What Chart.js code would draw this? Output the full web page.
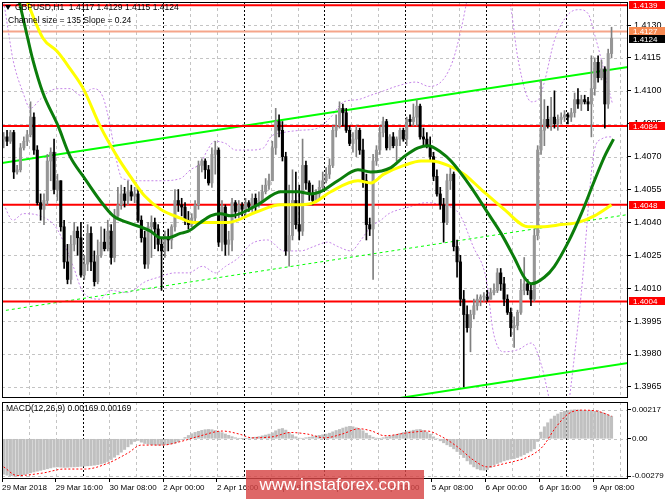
<!DOCTYPE html>
<html>
<head>
<meta charset="utf-8">
<title>GBPUSD H1</title>
<script src="https://cdn.jsdelivr.net/npm/chart.js@4.4.1/dist/chart.umd.min.js"></script>
<style>
  html, body { margin: 0; padding: 0; background: #fff; }
  #box { position: relative; width: 665px; height: 499px; overflow: hidden; }
  #main { position: absolute; left: 0; top: 0; }
  #macd { position: absolute; left: 0; top: 399px; }
  #mark { position: absolute; left: 246px; top: 470px; width: 178px; height: 29px;
          background: rgba(215, 70, 70, 0.82); color: #fff;
          font: 17px "Liberation Sans", Arial, sans-serif; line-height: 29px; text-align: center; }
</style>
</head>
<body>
<div id="box">
  <canvas id="main" width="665" height="400"></canvas>
  <canvas id="macd" width="665" height="100"></canvas>
  <div id="mark">www.instaforex.com</div>
</div>
<script>
// ---- data ----
var symbolTitle = 'GBPUSD,H1';
var channelInfo = 'Channel size = 135 Slope = 0.24';
var macdTitle = 'MACD(12,26,9)';

var xLabels = ['29 Mar 2018', '29 Mar 16:00', '30 Mar 08:00', '2 Apr 00:00', '2 Apr 16:00', '3 Apr 08:00',
               '4 Apr 00:00', '4 Apr 16:00', '5 Apr 08:00', '6 Apr 00:00', '6 Apr 16:00', '9 Apr 08:00'];
var priceTicks = [1.3965, 1.3980, 1.3995, 1.4010, 1.4025, 1.4040, 1.4055, 1.4070, 1.4085, 1.4100, 1.4115, 1.4130];
var macdTicks = [0.00217, 0, -0.00279];

var opens = [
  1.4078,1.4079,1.4077,1.4081,1.4063,1.4064,1.4074,1.4077,1.4080,1.4088,1.4073,1.4049,1.4046,1.4050,1.4068,1.4072,1.4055,1.4059,1.4038,1.4022,
  1.4014,1.4030,1.4036,1.4033,1.4016,1.4021,1.4035,1.4022,1.4013,1.4025,1.4031,1.4028,1.4036,1.4024,1.4043,1.4048,1.4053,1.4050,1.4054,1.4052,
  1.4053,1.4041,1.4033,1.4021,1.4038,1.4040,1.4037,1.4030,1.4027,1.4033,1.4032,1.4038,1.4050,1.4048,1.4047,1.4041,1.4039,1.4042,1.4048,1.4066,
  1.4068,1.4064,1.4058,1.4071,1.4073,1.4031,1.4047,1.4030,1.4032,1.4049,1.4045,1.4048,1.4046,1.4049,1.4047,1.4051,1.4048,1.4050,1.4054,1.4057,
  1.4059,1.4074,1.4086,1.4082,1.4070,1.4027,1.4034,1.4050,1.4039,1.4036,1.4066,1.4058,1.4053,1.4050,1.4053,1.4056,1.4059,1.4062,1.4066,1.4082,
  1.4084,1.4092,1.4090,1.4082,1.4076,1.4078,1.4082,1.4073,1.4059,1.4039,1.4037,1.4068,1.4073,1.4081,1.4086,1.4074,1.4079,1.4075,1.4078,1.4082,
  1.4078,1.4087,1.4086,1.4088,1.4093,1.4079,1.4078,1.4075,1.4070,1.4061,1.4053,1.4048,1.4040,1.4059,1.4062,1.4029,1.4022,1.4005,1.3998,1.3992,
  1.3998,1.4002,1.4005,1.4006,1.4006,1.4005,1.4008,1.4009,1.4017,1.4012,1.4005,1.3999,1.3992,1.3993,1.3999,1.4009,1.4012,1.4009,1.4005,1.4034,
  1.4073,1.4082,1.4087,1.4084,1.4088,1.4085,1.4087,1.4088,1.4089,1.4088,1.4090,1.4096,1.4094,1.4096,1.4095,1.4094,1.4101,1.4113,1.4106,1.4110,
  1.4094,1.4117];
var highs = [
  1.4081,1.4082,1.4082,1.4082,1.4066,1.4076,1.4079,1.4082,1.4095,1.4090,1.4075,1.4053,1.4053,1.4071,1.4074,1.4078,1.4062,1.4059,1.4041,1.4030,
  1.4034,1.4040,1.4038,1.4040,1.4025,1.4039,1.4038,1.4027,1.4032,1.4038,1.4037,1.4041,1.4039,1.4046,1.4056,1.4057,1.4056,1.4059,1.4057,1.4056,
  1.4055,1.4043,1.4036,1.4040,1.4043,1.4042,1.4039,1.4033,1.4036,1.4037,1.4039,1.4055,1.4055,1.4051,1.4049,1.4045,1.4044,1.4050,1.4068,1.4069,
  1.4069,1.4066,1.4074,1.4077,1.4074,1.4050,1.4048,1.4036,1.4051,1.4050,1.4050,1.4049,1.4051,1.4050,1.4053,1.4053,1.4054,1.4057,1.4060,1.4062,
  1.4077,1.4092,1.4089,1.4086,1.4072,1.4057,1.4064,1.4063,1.4057,1.4078,1.4068,1.4059,1.4057,1.4055,1.4059,1.4063,1.4065,1.4069,1.4084,1.4089,
  1.4095,1.4094,1.4092,1.4084,1.4081,1.4084,1.4083,1.4078,1.4062,1.4042,1.4071,1.4075,1.4084,1.4088,1.4087,1.4080,1.4081,1.4079,1.4083,1.4083,
  1.4088,1.4089,1.4094,1.4096,1.4094,1.4083,1.4081,1.4079,1.4072,1.4064,1.4056,1.4051,1.4062,1.4065,1.4063,1.4032,1.4025,1.4009,1.4002,1.4000,
  1.4005,1.4007,1.4007,1.4008,1.4009,1.4010,1.4012,1.4019,1.4019,1.4015,1.4007,1.4001,1.3997,1.4000,1.4014,1.4024,1.4014,1.4012,1.4037,1.4075,
  1.4105,1.4096,1.4093,1.4097,1.4100,1.4089,1.4090,1.4091,1.4090,1.4092,1.4099,1.4101,1.4098,1.4098,1.4097,1.4116,1.4115,1.4116,1.4114,1.4111,
  1.4119,1.4129];
var lows = [
  1.4074,1.4075,1.4076,1.4060,1.4062,1.4063,1.4073,1.4075,1.4079,1.4071,1.4048,1.4041,1.4039,1.4048,1.4059,1.4053,1.4050,1.4036,1.4019,1.4012,
  1.4012,1.4027,1.4025,1.4015,1.4014,1.4018,1.4018,1.4011,1.4012,1.4024,1.4027,1.4027,1.4021,1.4022,1.4042,1.4046,1.4047,1.4048,1.4050,1.4049,
  1.4040,1.4031,1.4019,1.4019,1.4024,1.4028,1.4027,1.4009,1.4024,1.4027,1.4028,1.4036,1.4045,1.4043,1.4039,1.4037,1.4038,1.4040,1.4046,1.4063,
  1.4060,1.4057,1.4056,1.4062,1.4029,1.4027,1.4025,1.4025,1.4027,1.4042,1.4042,1.4043,1.4043,1.4045,1.4045,1.4045,1.4047,1.4050,1.4053,1.4055,
  1.4059,1.4071,1.4079,1.4068,1.4025,1.4020,1.4032,1.4037,1.4032,1.4034,1.4055,1.4050,1.4048,1.4049,1.4050,1.4054,1.4058,1.4060,1.4065,1.4079,
  1.4083,1.4084,1.4081,1.4075,1.4072,1.4070,1.4071,1.4056,1.4032,1.4034,1.4014,1.4066,1.4071,1.4079,1.4073,1.4073,1.4074,1.4068,1.4075,1.4077,
  1.4075,1.4084,1.4084,1.4084,1.4078,1.4075,1.4074,1.4068,1.4059,1.4052,1.4046,1.4031,1.4039,1.4055,1.4027,1.4015,1.4002,1.3965,1.3990,1.3981,
  1.3996,1.4000,1.4002,1.4004,1.4004,1.4005,1.4007,1.4008,1.4009,1.4002,1.3998,1.3988,1.3983,1.3991,1.3998,1.4007,1.4007,1.4002,1.4004,1.4032,
  1.4071,1.4075,1.4083,1.4082,1.4083,1.4082,1.4085,1.4086,1.4085,1.4086,1.4088,1.4092,1.4091,1.4094,1.4091,1.4079,1.4098,1.4104,1.4105,1.4083,
  1.4092,1.4115];
var closes = [
  1.4079,1.4077,1.4081,1.4063,1.4064,1.4074,1.4077,1.4080,1.4088,1.4073,1.4049,1.4046,1.4050,1.4068,1.4072,1.4055,1.4059,1.4038,1.4022,1.4014,
  1.4030,1.4036,1.4033,1.4016,1.4021,1.4035,1.4022,1.4013,1.4025,1.4031,1.4028,1.4036,1.4024,1.4043,1.4048,1.4053,1.4050,1.4054,1.4052,1.4053,
  1.4041,1.4033,1.4021,1.4038,1.4040,1.4037,1.4030,1.4027,1.4033,1.4032,1.4038,1.4050,1.4048,1.4047,1.4041,1.4039,1.4042,1.4048,1.4066,1.4068,
  1.4064,1.4058,1.4071,1.4073,1.4031,1.4047,1.4030,1.4032,1.4049,1.4045,1.4048,1.4046,1.4049,1.4047,1.4051,1.4048,1.4050,1.4054,1.4057,1.4059,
  1.4074,1.4086,1.4082,1.4070,1.4027,1.4034,1.4050,1.4039,1.4036,1.4066,1.4058,1.4053,1.4050,1.4053,1.4056,1.4059,1.4062,1.4066,1.4082,1.4084,
  1.4092,1.4090,1.4082,1.4076,1.4078,1.4082,1.4073,1.4059,1.4039,1.4037,1.4068,1.4073,1.4081,1.4086,1.4074,1.4079,1.4075,1.4078,1.4082,1.4078,
  1.4087,1.4086,1.4088,1.4093,1.4079,1.4078,1.4075,1.4070,1.4061,1.4053,1.4048,1.4040,1.4059,1.4062,1.4029,1.4022,1.4005,1.3998,1.3992,1.3998,
  1.4002,1.4005,1.4006,1.4006,1.4005,1.4008,1.4009,1.4017,1.4012,1.4005,1.3999,1.3992,1.3993,1.3999,1.4009,1.4012,1.4009,1.4005,1.4034,1.4073,
  1.4082,1.4087,1.4084,1.4088,1.4085,1.4087,1.4088,1.4089,1.4088,1.4090,1.4096,1.4094,1.4096,1.4095,1.4094,1.4101,1.4113,1.4106,1.4110,1.4094,
  1.4117,1.4124];

// moving averages, read as (bar, price) points
var maGreenX = [4.3, 7.0, 8.7, 11.7, 16.2, 19.8, 23.7, 28.7, 32.6, 36.8, 40.7, 43.7, 46.7, 48.7, 52.6, 55.0, 58.6, 61.6, 64.6, 67.6,
                75.6, 82.5, 87.6, 91.4, 94.4, 99.5, 105.5, 109.3, 115.3, 119.2, 123.4, 126.4, 130.2, 133.2, 139.2, 144.3, 148.1,
                152.0, 155.0, 157.1, 161.0, 164.0, 168.1, 172.0, 175.9, 178.9, 181.6];
var maGreenY = [1.4143, 1.4125, 1.4114, 1.4099, 1.4084, 1.4070, 1.4061, 1.4050, 1.4043, 1.4040, 1.4038, 1.4036, 1.4033, 1.4033, 1.4035,
                1.4036, 1.4040, 1.4043, 1.4044, 1.4043, 1.4048, 1.4054, 1.4054, 1.4053, 1.4054, 1.4059, 1.4064, 1.4063, 1.4065,
                1.4070, 1.4074, 1.4075, 1.4072, 1.4068, 1.4056, 1.4044, 1.4035, 1.4024, 1.4015, 1.4012, 1.4015, 1.4020, 1.4031,
                1.4044, 1.4059, 1.4070, 1.4078];
var maYellowX = [6.4, 11.7, 15.9, 19.8, 23.7, 28.7, 33.8, 37.7, 42.0, 46.7, 52.6, 56.5, 60.7, 66.7, 75.6, 82.5, 87.6, 92.3, 97.4,
                 105.5, 109.3, 113.2, 119.2, 124.3, 127.3, 132.3, 137.1, 142.2, 149.0, 156.2, 160.1, 166.1, 171.1, 175.9, 181.0];
var maYellowY = [1.4143, 1.4124, 1.4118, 1.4110, 1.4101, 1.4084, 1.4070, 1.4061, 1.4052, 1.4046, 1.4042, 1.4040, 1.4040, 1.4040,
                 1.4045, 1.4048, 1.4048, 1.4049, 1.4054, 1.4059, 1.4058, 1.4062, 1.4066, 1.4068, 1.4068, 1.4066, 1.4062, 1.4055,
                 1.4046, 1.4038, 1.4038, 1.4039, 1.4040, 1.4043, 1.4048];

// bands (violet dashed), read as (bar, price) points
var bandUpX = [-0.5, 1.3, 2.8, 5.8, 7.9, 10.8, 13.8, 16.8, 19.8, 22.8, 26.7, 29.6, 31.7, 33.5, 35.3, 40.7, 46.7, 52.6, 55.6, 58.6,
               60.7, 62.8, 66.1, 69.0, 73.5, 77.4, 79.5, 83.4, 88.4, 93.5, 97.4, 101.3, 105.5, 109.3, 113.2, 116.8, 122.8, 126.7,
               130.8, 133.8, 136.2, 138.6, 142.2, 148.2, 151.1, 153.2, 157.1, 159.2, 161.0, 164.0, 168.2, 171.4, 174.1, 175.9,
               178.0, 180.1, 181.3];
var bandUpY = [1.4146, 1.4128, 1.4114, 1.4099, 1.4092, 1.4096, 1.4100, 1.4101, 1.4101, 1.4098, 1.4101, 1.4097, 1.4084, 1.4069, 1.4060,
               1.4059, 1.4059, 1.4060, 1.4064, 1.4067, 1.4073, 1.4077, 1.4076, 1.4073, 1.4073, 1.4074, 1.4079, 1.4081, 1.4082,
               1.4083, 1.4088, 1.4095, 1.4096, 1.4098, 1.4100, 1.4102, 1.4104, 1.4102, 1.4105, 1.4114, 1.4128, 1.4146, 1.4168,
               1.4159, 1.4137, 1.4114, 1.4095, 1.4096, 1.4104, 1.4123, 1.4135, 1.4137, 1.4135, 1.4126, 1.4114, 1.4101, 1.4094];
var bandLowX = [-0.5, 2.8, 5.8, 10.8, 15.9, 20.7, 23.7, 28.7, 31.7, 36.8, 42.2, 46.1, 51.1, 55.0, 59.2, 63.1, 66.1, 70.0, 73.5, 78.6,
                83.4, 88.4, 92.3, 96.5, 99.5, 103.4, 106.4, 109.3, 112.3, 114.7, 120.7, 125.8, 130.2, 135.6, 139.8, 143.7, 145.8,
                148.8, 153.2, 157.1, 160.1, 162.5, 164.9, 167.3, 168.5, 172.0, 175.9, 178.0, 180.1, 181.3];
var bandLowY = [1.4050, 1.4041, 1.4044, 1.4043, 1.4037, 1.4020, 1.4008, 1.4005, 1.4009, 1.4008, 1.4013, 1.4015, 1.4017, 1.4017, 1.4020,
                1.4017, 1.4020, 1.4024, 1.4030, 1.4032, 1.4027, 1.4027, 1.4029, 1.4031, 1.4029, 1.4027, 1.4032, 1.4038, 1.4041,
                1.4044, 1.4047, 1.4049, 1.4048, 1.4044, 1.4029, 1.4014, 1.3990, 1.3981, 1.3982, 1.3985, 1.3975, 1.3959, 1.3941,
                1.3945, 1.3960, 1.4008, 1.4073, 1.4078, 1.4079, 1.4079];

// trend channel: [left, right] ends
var channelX = [-1.1, 186.4];
var channelUpper = [1.4067, 1.4111];
var channelMid = [1.39995, 1.40437];
var channelLower = [1.3932, 1.3976];

var levels = [1.4139, 1.4084, 1.4048, 1.4004];
var askPrice = 1.4127;
var bidPrice = 1.4124;

// MACD main (histogram, one per bar) and signal (points)
var macdMain = [
  -0.00265,-0.00272,-0.00276,-0.00279,-0.00278,-0.00274,-0.00268,-0.00262,-0.00255,-0.00248,-0.00242,
  -0.00236,-0.00230,-0.00224,-0.00218,-0.00212,-0.00210,-0.00212,-0.00214,-0.00213,-0.00211,
  -0.00210,-0.00208,-0.00206,-0.00204,-0.00202,-0.00200,-0.00197,-0.00193,-0.00188,-0.00181,
  -0.00170,-0.00155,-0.00138,-0.00120,-0.00100,-0.00080,-0.00060,-0.00040,-0.00020,-0.00012,
  -0.00025,-0.00035,-0.00040,-0.00044,-0.00046,-0.00047,-0.00047,-0.00045,-0.00042,-0.00038,
  -0.00033,-0.00022,-0.00005,0.00010,0.00025,0.00038,0.00048,0.00056,0.00063,0.00068,
  0.00070,0.00068,0.00062,0.00055,0.00046,0.00036,0.00026,0.00016,0.00008,0.00003,
  0.00001,0.00002,0.00005,0.00009,0.00012,0.00016,0.00022,0.00028,0.00035,0.00045,
  0.00060,0.00072,0.00077,0.00065,0.00045,0.00030,0.00015,0.00005,0.00004,0.00008,
  0.00012,0.00016,0.00022,0.00026,0.00030,0.00035,0.00042,0.00052,0.00062,0.00070,
  0.00080,0.00088,0.00093,0.00090,0.00082,0.00072,0.00060,0.00042,0.00025,0.00012,
  0.00005,0.00003,0.00008,0.00014,0.00020,0.00025,0.00032,0.00040,0.00047,0.00053,
  0.00058,0.00064,0.00068,0.00070,0.00062,0.00050,0.00035,0.00015,0.00000,-0.00015,
  -0.00030,-0.00045,-0.00058,-0.00075,-0.00095,-0.00118,-0.00140,-0.00165,-0.00190,-0.00210,
  -0.00225,-0.00233,-0.00235,-0.00230,-0.00215,-0.00195,-0.00185,-0.00175,-0.00165,-0.00158,
  -0.00152,-0.00148,-0.00140,-0.00130,-0.00118,-0.00105,-0.00092,-0.00075,-0.00020,0.00050,
  0.00090,0.00120,0.00148,0.00170,0.00185,0.00198,0.00207,0.00212,0.00215,0.00217,
  0.00216,0.00214,0.00211,0.00208,0.00206,0.00205,0.00203,0.00198,0.00190,0.00178,0.00169];
var signalX = [0, 4, 11.6, 18, 24.4, 30.7, 37.1, 40.9, 47.3, 52.3, 58.7, 65.1, 70.2, 74, 80.3, 85.4, 90.5, 95.6, 100.7,
               105.8, 109.6, 113.4, 121, 126.1, 129.9, 135, 140.1, 144, 149, 156.7, 160.5, 164.3, 168.1, 172, 177, 181];
var signalY = [-0.00210, -0.00275, -0.00256, -0.00226, -0.00226, -0.00186, -0.00105, -0.00047, -0.00047, -0.00023, 0.00023,
               0.00058, 0.00035, 0.00007, 0.00016, 0.00047, 0.00035, 0.00007, 0.00035, 0.00075, 0.00058, 0.00023, 0.00047,
               0.00058, 0.00023, -0.00058, -0.00163, -0.00210, -0.00186, -0.00128, -0.00058, 0.00082, 0.00186, 0.00214,
               0.00205, 0.00169];

// ---- axis ranges & styling ----
var X_MIN = -0.5, X_MAX = 185.9;
var PRICE_MIN = 1.39604, PRICE_MAX = 1.41405;
var MACD_MIN = -0.00293, MACD_MAX = 0.00275;
var labelStep = 16, gridStep = 8, dayStep = 24;
var FONT = '"Liberation Sans", Arial, sans-serif';

Chart.defaults.font.family = FONT;
Chart.defaults.font.size = 8;
Chart.defaults.color = '#000';

function pts(xs, ys) { return xs.map(function(x, i) { return {x: x, y: ys[i]}; }); }
function hline(v) { return [{x: X_MIN, y: v}, {x: X_MAX, y: v}]; }
function lineSet(data, color, width, order, dash) {
  return {type: 'line', data: data, borderColor: color, borderWidth: width, pointRadius: 0,
          fill: false, clip: 0, order: order, borderDash: dash || [], cubicInterpolationMode: 'monotone'};
}

// grid, separators and frame like the terminal draws them
function mtGrid(hTicks) {
  return {
    id: 'mtGrid',
    beforeDatasetsDraw: function(chart) {
      var ctx = chart.ctx, a = chart.chartArea, xs = chart.scales.x, ys = chart.scales.y;
      ctx.save();
      ctx.beginPath(); ctx.rect(a.left, a.top, a.right - a.left, a.bottom - a.top); ctx.clip();
      ctx.lineWidth = 1;
      ctx.strokeStyle = '#c4c4c4'; ctx.setLineDash([3, 3]);
      hTicks.forEach(function(v) {
        var y = Math.round(ys.getPixelForValue(v)) + 0.5;
        ctx.beginPath(); ctx.moveTo(a.left, y); ctx.lineTo(a.right, y); ctx.stroke();
      });
      for (var b = gridStep; b <= X_MAX; b += gridStep) {
        var x = Math.round(xs.getPixelForValue(b - 0.5)) + 0.5;
        if (b % dayStep === 0) { ctx.strokeStyle = '#000'; ctx.setLineDash([2, 2]); }
        else { ctx.strokeStyle = '#c4c4c4'; ctx.setLineDash([3, 3]); }
        ctx.beginPath(); ctx.moveTo(x, a.top); ctx.lineTo(x, a.bottom); ctx.stroke();
      }
      ctx.restore();
    },
    afterDatasetsDraw: function(chart) {
      var ctx = chart.ctx, a = chart.chartArea;
      ctx.save();
      ctx.strokeStyle = '#000'; ctx.lineWidth = 1;
      ctx.strokeRect(a.left + 0.5, a.top + 0.5, a.right - a.left - 1, a.bottom - a.top);
      ctx.restore();
    }
  };
}

var last = closes.length - 1;
var idx = closes.map(function(c, i) { return i; });
var isUp = idx.map(function(i) { return closes[i] >= opens[i]; });

// price tags on the right axis; ask tag nudged up, bid tag nudged down so both stay readable
var badgePlugin = {
  id: 'badges',
  afterDraw: function(chart) {
    var ctx = chart.ctx, ys = chart.scales.y;
    var items = levels.map(function(v) { return {v: v, bg: '#ff0000', shift: 0}; });
    items.push({v: askPrice, bg: '#f78a52', shift: -1});
    items.push({v: bidPrice, bg: '#000000', shift: 1});
    ctx.save();
    ctx.font = '8px ' + FONT; ctx.textBaseline = 'middle';
    items.forEach(function(it) {
      var y = Math.round(ys.getPixelForValue(it.v)) + it.shift;
      ctx.fillStyle = it.bg; ctx.fillRect(629, y - 4, 36, 8);
      ctx.fillStyle = '#fff'; ctx.fillText(it.v.toFixed(4), 633, y + 0.5);
    });
    ctx.restore();
  }
};

var headerPlugin = {
  id: 'header',
  afterDatasetsDraw: function(chart) {
    var ctx = chart.ctx;
    ctx.save();
    ctx.fillStyle = '#000';
    ctx.beginPath(); ctx.moveTo(5, 5); ctx.lineTo(11, 5); ctx.lineTo(8, 10); ctx.closePath(); ctx.fill();
    ctx.font = '8.5px ' + FONT; ctx.textBaseline = 'middle';
    ctx.fillText(symbolTitle + '  ' + opens[last].toFixed(4) + ' ' + highs[last].toFixed(4) + ' ' +
                 lows[last].toFixed(4) + ' ' + closes[last].toFixed(4), 15, 8);
    ctx.fillText(channelInfo, 8, 21);
    ctx.restore();
  }
};

new Chart(document.getElementById('main'), {
  data: {
    datasets: [
      lineSet(pts(maGreenX, maGreenY), '#0b7d0b', 3, 1),
      lineSet(pts(maYellowX, maYellowY), '#ffff00', 3, 2),
      {type: 'bar', data: idx.map(function(i) { return {x: i, y: [opens[i], closes[i]]}; }),
       backgroundColor: isUp.map(function(u) { return u ? '#969696' : '#000'; }),
       barThickness: 2.4, minBarLength: 1, grouped: false, order: 4},
      {type: 'bar', data: idx.map(function(i) { return {x: i, y: [lows[i], highs[i]]}; }),
       backgroundColor: isUp.map(function(u) { return u ? '#808080' : '#000'; }),
       barThickness: 1, grouped: false, order: 5},
      lineSet(hline(levels[0]), '#ff0000', 2, 6),
      lineSet(hline(levels[1]), '#ff0000', 2, 6),
      lineSet(hline(levels[2]), '#ff0000', 2, 6),
      lineSet(hline(levels[3]), '#ff0000', 2, 6),
      lineSet(hline(askPrice), '#f5a58a', 2, 7),
      lineSet(hline(bidPrice), '#c8c8c8', 1, 7),
      lineSet(pts(channelX, channelUpper), '#00ff00', 2, 8),
      lineSet(pts(channelX, channelLower), '#00ff00', 2, 8),
      lineSet(pts(channelX, channelMid), '#00ff00', 1, 8, [3, 3]),
      lineSet(pts(bandUpX, bandUpY), '#c585e8', 1, 9, [2, 2]),
      lineSet(pts(bandLowX, bandLowY), '#c585e8', 1, 9, [2, 2])
    ]
  },
  options: {
    responsive: false, animation: false, devicePixelRatio: 1,
    layout: {padding: {left: 2, top: 2, right: 0, bottom: 3}},
    plugins: {legend: {display: false}, tooltip: {enabled: false}},
    scales: {
      x: {type: 'linear', display: false, offset: false, min: X_MIN, max: X_MAX, bounds: 'data'},
      y: {type: 'linear', position: 'right', min: PRICE_MIN, max: PRICE_MAX, bounds: 'data',
          afterFit: function(s) { s.width = 37; s.paddingTop = 0; s.paddingBottom = 0; },
          afterBuildTicks: function(s) { s.ticks = priceTicks.map(function(v) { return {value: v}; }); },
          ticks: {callback: function(v) { return v.toFixed(4); }, padding: 3, autoSkip: false, font: {size: 9}},
          grid: {drawOnChartArea: false, drawTicks: true, tickLength: 3, color: '#000'},
          border: {display: false}}
    }
  },
  plugins: [mtGrid(priceTicks), badgePlugin, headerPlugin]
});

var macdHeader = {
  id: 'macdHeader',
  afterDatasetsDraw: function(chart) {
    var ctx = chart.ctx;
    ctx.save();
    ctx.fillStyle = '#000'; ctx.font = '8.5px ' + FONT; ctx.textBaseline = 'middle';
    ctx.fillText(macdTitle + ' ' + macdMain[last].toFixed(5) + ' ' + signalY[signalY.length - 1].toFixed(5), 6, 10);
    ctx.restore();
  }
};

new Chart(document.getElementById('macd'), {
  data: {
    datasets: [
      lineSet(pts(signalX, signalY), '#ff0000', 1, 1, [2, 2]),
      {type: 'bar', data: idx.map(function(i) { return {x: i, y: macdMain[i]}; }),
       backgroundColor: '#c0c0c0', barThickness: 2.4, grouped: false, order: 2}
    ]
  },
  options: {
    responsive: false, animation: false, devicePixelRatio: 1,
    layout: {padding: {left: 2, top: 3, right: 0, bottom: 0}},
    plugins: {legend: {display: false}, tooltip: {enabled: false}},
    scales: {
      x: {type: 'linear', offset: false, min: X_MIN, max: X_MAX, bounds: 'data',
          afterFit: function(s) { s.height = 21; s.paddingLeft = 0; s.paddingRight = 0; },
          afterBuildTicks: function(s) { s.ticks = xLabels.map(function(l, k) { return {value: k * labelStep - 0.5}; }); },
          ticks: {callback: function(v, i) { return xLabels[i]; }, align: 'start', maxRotation: 0, minRotation: 0,
                  autoSkip: false, padding: 1, font: {size: 8}},
          grid: {drawOnChartArea: false, drawTicks: true, tickLength: 4, color: '#000', offset: false},
          border: {display: false}},
      y: {type: 'linear', position: 'right', min: MACD_MIN, max: MACD_MAX, bounds: 'data',
          afterFit: function(s) { s.width = 37; s.paddingTop = 0; s.paddingBottom = 0; },
          afterBuildTicks: function(s) { s.ticks = macdTicks.map(function(v) { return {value: v}; }); },
          ticks: {callback: function(v) { return v === 0 ? '0.00' : v.toFixed(5); }, padding: 1, autoSkip: false, font: {size: 8}},
          grid: {drawOnChartArea: false, drawTicks: true, tickLength: 3, color: '#000'},
          border: {display: false}}
    }
  },
  plugins: [mtGrid(macdTicks), macdHeader]
});
</script>
</body>
</html>
